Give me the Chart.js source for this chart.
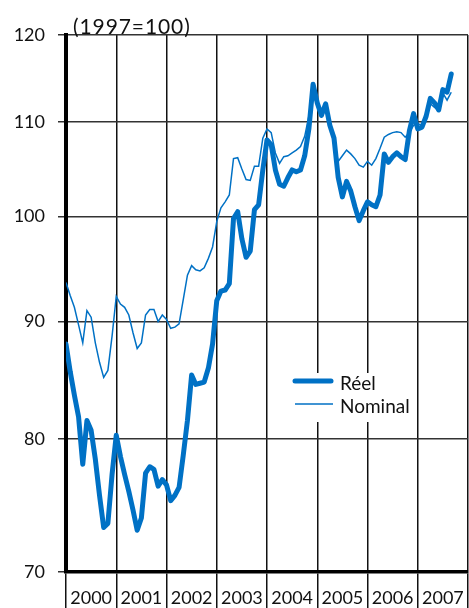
<!DOCTYPE html>
<html>
<head>
<meta charset="utf-8">
<script src="https://cdn.jsdelivr.net/npm/chart.js@4.4.1/dist/chart.umd.min.js"></script>
<style>
  html, body { margin: 0; padding: 0; background: #fff; }
</style>
</head>
<body>
<canvas id="chart" width="469" height="608"></canvas>
<script>
// ---- data (monthly, Jan 2000 .. Sep 2007, 1997 = 100) ----
const years = ["2000", "2001", "2002", "2003", "2004", "2005", "2006", "2007"];
const yTicks = [70, 80, 90, 100, 110, 120];
const seriesNames = ["Réel", "Nominal"];
const unitLabel = "(1997=100)";

const reel = [
  88.0, 85.6, 83.6, 81.8, 78.0, 81.5, 80.7, 78.4, 75.6, 73.2, 73.5, 77.2,
  80.3, 78.6, 77.2, 75.9, 74.5, 73.0, 73.9, 77.3, 77.8, 77.6, 76.3, 76.8,
  76.4, 75.2, 75.6, 76.2, 78.7, 81.5, 85.3, 84.5, 84.6, 84.7, 85.9, 88.0,
  91.9, 92.8, 92.9, 93.5, 99.8, 100.5, 97.8, 96.0, 96.6, 100.7, 101.2, 104.8,
  108.0, 107.5, 104.8, 103.3, 103.1, 104.0, 104.8, 104.6, 104.8, 106.3, 109.2, 114.2,
  112.1, 110.7, 112.0, 109.6, 108.2, 104.0, 102.0, 103.6, 102.6, 101.0, 99.6, 100.6,
  101.5, 101.2, 101.0, 102.2, 106.5, 105.6, 106.2, 106.6, 106.2, 105.9, 109.0, 110.9,
  109.2, 109.4, 110.6, 112.6, 112.1, 111.3, 113.6, 113.3, 115.4
];

const nominal = [
  93.6, 92.4, 91.3, 89.7, 88.1, 91.0, 90.4, 88.1, 86.4, 85.1, 85.7, 88.7,
  92.3, 91.6, 91.3, 90.6, 89.0, 87.6, 88.1, 90.6, 91.1, 91.1, 90.0, 90.6,
  90.2, 89.4, 89.5, 89.8, 92.0, 94.3, 95.2, 94.8, 94.7, 95.0, 95.9, 97.0,
  99.5, 100.9, 101.5, 102.2, 106.0, 106.1, 104.9, 103.8, 103.7, 105.2, 105.2, 108.2,
  109.2, 108.8, 106.6, 105.5, 106.2, 106.3, 106.6, 106.9, 107.3, 108.4, 110.6, 113.7,
  111.7, 110.6, 111.5, 109.3, 107.8, 105.7, 106.3, 106.9, 106.5, 106.0, 105.3, 105.1,
  105.7, 105.3, 106.0, 107.1, 108.3, 108.6, 108.8, 108.9, 108.8, 108.3, 108.8, 109.6,
  109.8, 109.6, 110.9, 112.0, 111.6, 111.3, 113.2, 112.4, 113.3
];

const BLUE = "#0071c5";
const FONT = "Lato, 'Noto Sans', sans-serif";

const toPoints = (arr) => arr.map((v, i) => ({ x: i, y: v }));

// unit label + legend box drawn over the grid
const overlay = {
  id: "overlay",
  afterDraw(chart) {
    const ctx = chart.ctx;
    const left = chart.chartArea.left;
    ctx.save();
    ctx.fillStyle = "#111";
    ctx.font = "21px " + FONT;
    ctx.letterSpacing = "0.9px";
    ctx.textAlign = "left";
    ctx.textBaseline = "alphabetic";
    ctx.fillText(unitLabel, left + 7, 34);
    ctx.letterSpacing = "0px";

    ctx.fillStyle = "#fff";
    ctx.fillRect(286, 373, 128, 49);

    ctx.strokeStyle = BLUE;
    ctx.lineCap = "round";
    ctx.lineWidth = 5;
    ctx.beginPath();
    ctx.moveTo(295, 381);
    ctx.lineTo(331, 381);
    ctx.stroke();
    ctx.lineCap = "butt";
    ctx.lineWidth = 1.5;
    ctx.beginPath();
    ctx.moveTo(295, 404);
    ctx.lineTo(333, 404);
    ctx.stroke();

    ctx.fillStyle = "#111";
    ctx.font = "19px " + FONT;
    ctx.fillText(seriesNames[0], 340, 390);
    ctx.fillText(seriesNames[1], 340, 413);
    ctx.restore();
  }
};

new Chart(document.getElementById("chart"), {
  type: "line",
  data: {
    datasets: [
      {
        label: seriesNames[0],
        data: toPoints(reel),
        borderColor: BLUE,
        borderWidth: 5,
        pointRadius: 0,
        tension: 0,
        borderJoinStyle: "round",
        borderCapStyle: "round",
      },
      {
        label: seriesNames[1],
        data: toPoints(nominal),
        borderColor: BLUE,
        borderWidth: 1.5,
        pointRadius: 0,
        tension: 0,
      },
    ],
  },
  options: {
    responsive: false,
    animation: false,
    layout: { padding: { top: 35, right: 1, left: 0, bottom: 0 } },
    plugins: { legend: { display: false }, tooltip: { enabled: false } },
    scales: {
      x: {
        type: "linear",
        min: 0,
        max: 96,
        afterBuildTicks: (s) => {
          s.ticks = [];
          for (let m = 0; m <= 96; m += 6) s.ticks.push({ value: m });
        },
        afterFit: (s) => { s.height = 36; },
        grid: {
          color: (c) => (c.tick && c.tick.value % 12 === 0 ? "#111" : "rgba(0,0,0,0)"),
          lineWidth: 1.5,
          tickLength: 36,
        },
        border: { display: true, color: "#000", width: 3.5 },
        ticks: {
          autoSkip: false,
          maxRotation: 0,
          padding: -21,
          color: "#111",
          font: { family: FONT, size: 18 },
          callback: (v) => (v % 12 === 6 ? years[(v - 6) / 12] : ""),
        },
      },
      y: {
        type: "logarithmic",
        min: 70,
        max: 120,
        afterBuildTicks: (s) => { s.ticks = yTicks.map((v) => ({ value: v })); },
        afterFit: (s) => { s.width = 66; },
        grid: { color: "#333", lineWidth: 1.5, tickLength: 8 },
        border: { display: true, color: "#000", width: 4 },
        ticks: {
          padding: 13,
          color: "#111",
          font: { family: FONT, size: 18 },
          callback: (v) => String(v),
        },
      },
    },
  },
  plugins: [overlay],
});
</script>
</body>
</html>
